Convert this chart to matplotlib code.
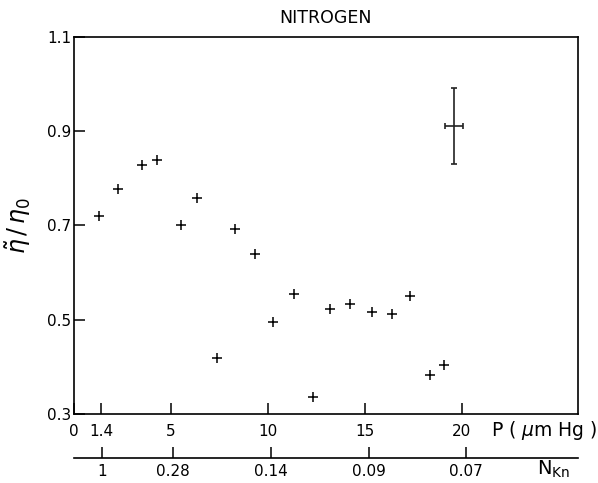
import matplotlib.pyplot as plt
from matplotlib.transforms import blended_transform_factory

# pressure (micron Hg) and reduced viscosity
pressure = [1.30, 2.28, 3.52, 4.29, 5.51, 6.37, 7.37, 8.31, 9.32, 10.27,
            11.37, 12.33, 13.22, 14.25, 15.35, 16.42, 17.35, 18.35, 19.10]
eta_ratio = [0.721, 0.778, 0.828, 0.839, 0.700, 0.759, 0.419, 0.692, 0.640, 0.495,
             0.555, 0.337, 0.522, 0.533, 0.516, 0.512, 0.550, 0.383, 0.405]

# typical error bar
err_x, err_y = 19.59, 0.911
err_dx, err_dy = 0.46, 0.08

p_ticks = [0, 1.4, 5, 10, 15, 20]
p_labels = ["0", "1.4", "5", "10", "15", "20"]
y_ticks = [0.3, 0.5, 0.7, 0.9, 1.1]

# Knudsen number scale (positions in P units)
kn_pos = [1.43, 5.12, 10.15, 15.2, 20.2]
kn_labels = ["1", "0.28", "0.14", "0.09", "0.07"]

plt.rcParams['font.family'] = 'DejaVu Sans'

fig = plt.figure(figsize=(5.98, 4.83), dpi=100)
ax = fig.add_axes([0.1237, 0.1429, 0.8428, 0.7805])

ax.plot(pressure, eta_ratio, linestyle='none', marker='+', markersize=7,
        markeredgewidth=1.1, color='black')
ax.errorbar([err_x], [err_y], xerr=[err_dx], yerr=[err_dy], fmt='none',
            ecolor='#222222', elinewidth=1.2, capsize=2.5, capthick=1.2)

ax.set_xlim(0, 26)
ax.set_ylim(0.3, 1.1)
ax.set_xticks(p_ticks)
ax.set_xticklabels(p_labels)
ax.set_yticks(y_ticks)
ax.set_yticklabels([f"{v:.1f}" for v in y_ticks])
ax.tick_params(axis='both', direction='in', length=8, width=1.1, labelsize=11)
ax.tick_params(axis='x', pad=7)
ax.tick_params(axis='y', pad=2)
for s in ax.spines.values():
    s.set_linewidth(1.2)

ax.set_title("NITROGEN", fontsize=12.5, pad=10)
ax.set_ylabel(r"$\tilde{\eta}\,/\,\eta_0$", fontsize=17, labelpad=10)

trans = blended_transform_factory(ax.transData, ax.transAxes)
ax.text(21.5, -0.043, r"P ( $\mu$m Hg )", transform=trans, fontsize=13.5,
        ha='left', va='center')

# second scale: Knudsen number
ax2 = fig.add_axes([0.1237, 0.0518, 0.8428, 0.0001])
ax2.set_xlim(0, 26)
ax2.set_yticks([])
for side in ['top', 'left', 'right']:
    ax2.spines[side].set_visible(False)
ax2.spines['bottom'].set_linewidth(1.2)
ax2.set_xticks(kn_pos)
ax2.set_xticklabels(kn_labels)
ax2.tick_params(axis='x', direction='in', length=8, width=1.1, labelsize=11, pad=4)
ax2.text(23.9, -7, r"N$_{\mathregular{Kn}}$", fontsize=14, ha='left', va='top',
         transform=blended_transform_factory(ax2.transData, ax2.transAxes))

fig.savefig("out.png", dpi=100)
